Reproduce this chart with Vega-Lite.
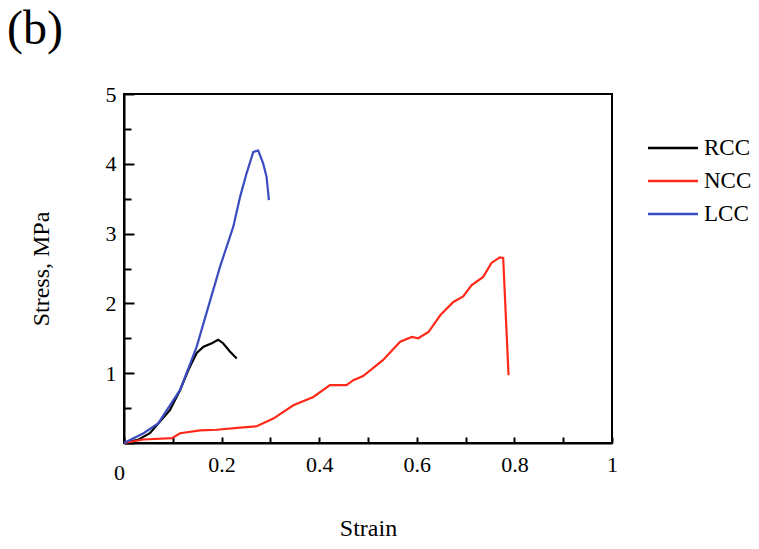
{
  "$schema": "https://vega.github.io/schema/vega-lite/v6.json",
  "width": 488,
  "height": 349,
  "autosize": "none",
  "padding": {"left": 124, "top": 94, "right": 147, "bottom": 106},
  "background": "white",
  "title": {"text": "(b)", "anchor": "start", "frame": "group", "dx": -117, "offset": -9, "baseline": "alphabetic", "font": "Liberation Serif", "fontSize": 48, "fontWeight": "normal", "color": "black"},
  "config": {
    "view": {"stroke": "black", "strokeWidth": 2},
    "font": "Liberation Serif"
  },
  "data": {"values": [
    {"series": "RCC", "strain": 0.0, "stress": 0.0},
    {"series": "RCC", "strain": 0.03, "stress": 0.05},
    {"series": "RCC", "strain": 0.053, "stress": 0.14},
    {"series": "RCC", "strain": 0.094, "stress": 0.47},
    {"series": "RCC", "strain": 0.115, "stress": 0.76},
    {"series": "RCC", "strain": 0.132, "stress": 1.05},
    {"series": "RCC", "strain": 0.149, "stress": 1.29},
    {"series": "RCC", "strain": 0.163, "stress": 1.38},
    {"series": "RCC", "strain": 0.18, "stress": 1.43},
    {"series": "RCC", "strain": 0.193, "stress": 1.48},
    {"series": "RCC", "strain": 0.203, "stress": 1.43},
    {"series": "RCC", "strain": 0.217, "stress": 1.31},
    {"series": "RCC", "strain": 0.231, "stress": 1.21},
    {"series": "NCC", "strain": 0.0, "stress": 0.0},
    {"series": "NCC", "strain": 0.04, "stress": 0.05},
    {"series": "NCC", "strain": 0.098, "stress": 0.07},
    {"series": "NCC", "strain": 0.115, "stress": 0.14},
    {"series": "NCC", "strain": 0.156, "stress": 0.18},
    {"series": "NCC", "strain": 0.19, "stress": 0.19},
    {"series": "NCC", "strain": 0.238, "stress": 0.22},
    {"series": "NCC", "strain": 0.272, "stress": 0.24},
    {"series": "NCC", "strain": 0.306, "stress": 0.35},
    {"series": "NCC", "strain": 0.347, "stress": 0.54},
    {"series": "NCC", "strain": 0.388, "stress": 0.66},
    {"series": "NCC", "strain": 0.422, "stress": 0.83},
    {"series": "NCC", "strain": 0.456, "stress": 0.83},
    {"series": "NCC", "strain": 0.47, "stress": 0.9},
    {"series": "NCC", "strain": 0.49, "stress": 0.96},
    {"series": "NCC", "strain": 0.531, "stress": 1.19},
    {"series": "NCC", "strain": 0.566, "stress": 1.45},
    {"series": "NCC", "strain": 0.59, "stress": 1.52},
    {"series": "NCC", "strain": 0.603, "stress": 1.5},
    {"series": "NCC", "strain": 0.624, "stress": 1.59},
    {"series": "NCC", "strain": 0.648, "stress": 1.83},
    {"series": "NCC", "strain": 0.675, "stress": 2.02},
    {"series": "NCC", "strain": 0.695, "stress": 2.1},
    {"series": "NCC", "strain": 0.712, "stress": 2.26},
    {"series": "NCC", "strain": 0.736, "stress": 2.38},
    {"series": "NCC", "strain": 0.753, "stress": 2.58},
    {"series": "NCC", "strain": 0.77, "stress": 2.66},
    {"series": "NCC", "strain": 0.777, "stress": 2.65},
    {"series": "NCC", "strain": 0.788, "stress": 0.97},
    {"series": "LCC", "strain": 0.0, "stress": 0.0},
    {"series": "LCC", "strain": 0.04, "stress": 0.14},
    {"series": "LCC", "strain": 0.07, "stress": 0.28},
    {"series": "LCC", "strain": 0.115, "stress": 0.76},
    {"series": "LCC", "strain": 0.149, "stress": 1.38},
    {"series": "LCC", "strain": 0.169, "stress": 1.86},
    {"series": "LCC", "strain": 0.197, "stress": 2.53},
    {"series": "LCC", "strain": 0.224, "stress": 3.1},
    {"series": "LCC", "strain": 0.238, "stress": 3.53},
    {"series": "LCC", "strain": 0.251, "stress": 3.86},
    {"series": "LCC", "strain": 0.265, "stress": 4.17},
    {"series": "LCC", "strain": 0.275, "stress": 4.19},
    {"series": "LCC", "strain": 0.285, "stress": 4.01},
    {"series": "LCC", "strain": 0.292, "stress": 3.82},
    {"series": "LCC", "strain": 0.297, "stress": 3.48}
  ]},
  "mark": {"type": "line", "strokeWidth": 2.2},
  "encoding": {
    "x": {
      "field": "strain", "type": "quantitative",
      "scale": {"domain": [0, 1], "nice": false, "zero": false},
      "axis": {
        "title": "Strain", "titleFont": "Liberation Serif", "titleFontSize": 24, "titleFontWeight": "normal", "titleColor": "black", "titlePadding": 33,
        "values": [0, 0.1, 0.2, 0.3, 0.4, 0.5, 0.6, 0.7, 0.8, 0.9, 1],
        "labelExpr": "round(datum.value*10)%2==0 ? format(datum.value, '~g') : ''",
        "labelFont": "Liberation Serif", "labelFontSize": 22, "labelColor": "black",
        "labelPadding": {"condition": {"test": "datum.value == 0", "value": 25}, "value": 17},
        "labelOffset": {"condition": {"test": "datum.value == 0", "value": -5}, "value": 0},
        "labelFlush": false, "labelOverlap": false,
        "grid": false, "domainColor": "black", "domainWidth": 2,
        "tickColor": "black", "tickWidth": 2, "tickSize": -6
      }
    },
    "y": {
      "field": "stress", "type": "quantitative",
      "scale": {"domain": [0, 5], "nice": false},
      "axis": {
        "title": "Stress, MPa", "titleFont": "Liberation Serif", "titleFontSize": 24, "titleFontWeight": "normal", "titleColor": "black", "titlePadding": 52,
        "values": [0, 0.5, 1, 1.5, 2, 2.5, 3, 3.5, 4, 4.5, 5],
        "labelExpr": "datum.value > 0 && datum.value % 1 == 0 ? format(datum.value, 'd') : ''",
        "labelFont": "Liberation Serif", "labelFontSize": 22, "labelColor": "black", "labelPadding": 18,
        "labelFlush": false, "labelOverlap": false,
        "grid": false, "domainColor": "black", "domainWidth": 2,
        "tickColor": "black", "tickWidth": 2,
        "tickSize": {"condition": {"test": "datum.value % 1 == 0", "value": -10}, "value": -7}
      }
    },
    "color": {
      "field": "series", "type": "nominal",
      "scale": {"domain": ["RCC", "NCC", "LCC"], "range": ["#000000", "#ff2a1a", "#3a4cc0"]},
      "legend": {
        "title": null, "orient": "none", "legendX": 535, "legendY": 40,
        "symbolType": "M-2,0H2", "symbolSize": 625, "symbolStrokeWidth": 2.5,
        "labelFont": "Liberation Serif", "labelFontSize": 23, "labelColor": "black",
        "rowPadding": 7, "labelOffset": 17
      }
    }
  }
}
